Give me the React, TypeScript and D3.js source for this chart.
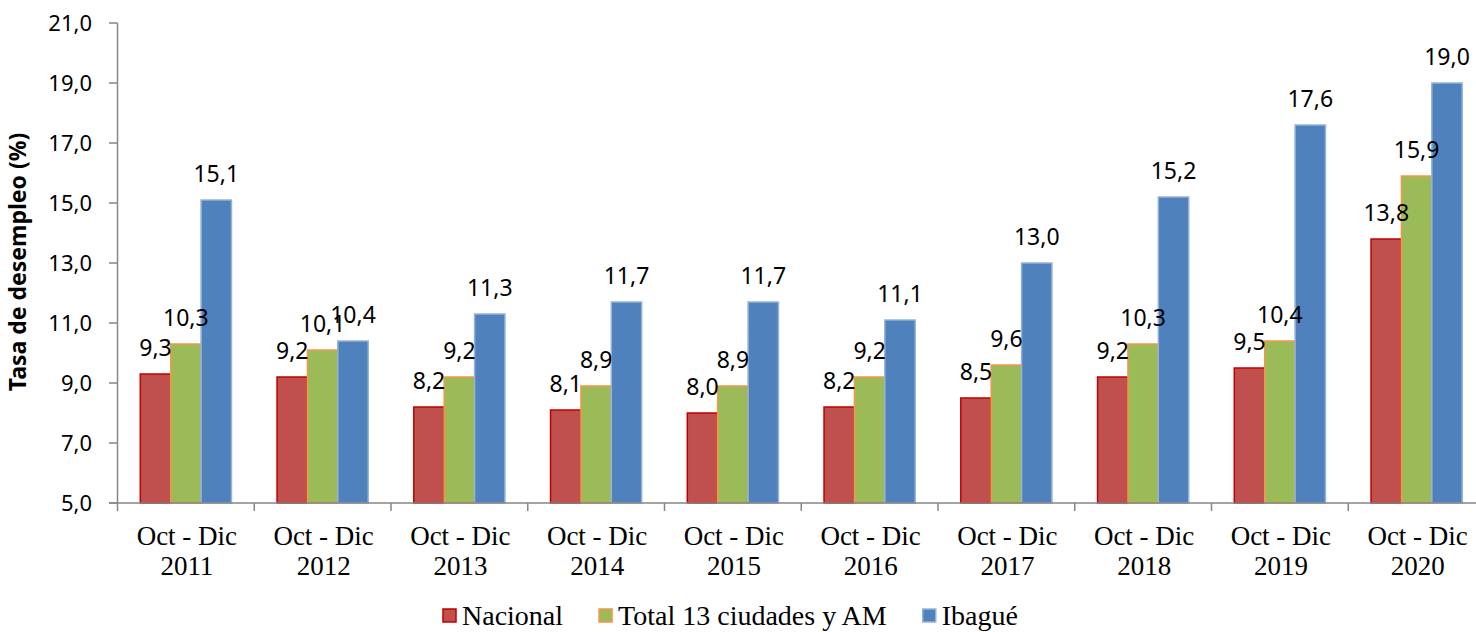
import React, { useEffect, useRef } from 'react';
import * as d3 from 'd3';

// data
const categories = ['2011', '2012', '2013', '2014', '2015', '2016', '2017', '2018', '2019', '2020'];
const seriesNames = ['Nacional', 'Total 13 ciudades y AM', 'Ibagué'];
const nacional = [9.3, 9.2, 8.2, 8.1, 8.0, 8.2, 8.5, 9.2, 9.5, 13.8];
const total13 = [10.3, 10.1, 9.2, 8.9, 8.9, 9.2, 9.6, 10.3, 10.4, 15.9];
const ibague = [15.1, 10.4, 11.3, 11.7, 11.7, 11.1, 13.0, 15.2, 17.6, 19.0];
const yTicks = [5, 7, 9, 11, 13, 15, 17, 19, 21];

const fills = ['#C0504D', '#9BBB59', '#4F81BD'];
const strokes = ['#C00000', '#F79646', '#95B3D7'];

export default function App() {
  const ref = useRef<SVGSVGElement>(null);

  useEffect(() => {
    draw();
    // eslint-disable-next-line react-hooks/exhaustive-deps
  }, []);

  function draw() {
    const svg = d3.select(ref.current);
    svg.selectAll('*').remove();
    const values = [nacional, total13, ibague];
    const axisColor = '#868686';
    const sans = "'Noto Sans', 'Open Sans', sans-serif";
    const serif = "'Liberation Serif', 'DejaVu Serif', serif";
    const fmt = (v: number) => d3.format('.1f')(v).replace('.', ',');

    const x0 = d3.scaleBand<string>().domain(categories).range([117.5, 1485]);
    const x1 = d3
      .scaleBand<string>()
      .domain(seriesNames)
      .range([0, x0.bandwidth()])
      .paddingOuter(0.75);
    const y = d3.scaleLinear().domain([5, 21]).range([503, 23]);

    // bars
    const g = svg.append('g');
    categories.forEach((c, ci) => {
      seriesNames.forEach((s, si) => {
        const v = values[si][ci];
        const bx = (x0(c) as number) + (x1(s) as number);
        g.append('rect')
          .attr('x', bx)
          .attr('y', y(v))
          .attr('width', x1.bandwidth())
          .attr('height', y(5) - y(v))
          .attr('fill', fills[si])
          .attr('stroke', strokes[si])
          .attr('stroke-width', 1.5);
      });
    });

    // labels
    categories.forEach((c, ci) => {
      seriesNames.forEach((s, si) => {
        const v = values[si][ci];
        const bx = (x0(c) as number) + (x1(s) as number) + x1.bandwidth() / 2;
        g.append('text')
          .attr('x', bx)
          .attr('y', y(v) - 18)
          .attr('text-anchor', 'middle')
          .attr('font-family', sans)
          .attr('font-size', 23)
          .attr('fill', '#000')
          .text(fmt(v));
      });
    });

    // y axis
    const ya = svg.append('g');
    ya.append('line')
      .attr('x1', 117.5)
      .attr('x2', 117.5)
      .attr('y1', y(21))
      .attr('y2', y(5))
      .attr('stroke', axisColor)
      .attr('stroke-width', 1.5);
    yTicks.forEach((t) => {
      ya.append('line')
        .attr('x1', 109)
        .attr('x2', 117.5)
        .attr('y1', y(t))
        .attr('y2', y(t))
        .attr('stroke', axisColor)
        .attr('stroke-width', 1.5);
      ya.append('text')
        .attr('x', 92)
        .attr('y', y(t))
        .attr('dy', '0.35em')
        .attr('text-anchor', 'end')
        .attr('font-family', sans)
        .attr('font-size', 22)
        .attr('fill', '#000')
        .text(fmt(t));
    });

    // x axis
    const xa = svg.append('g');
    xa.append('line')
      .attr('x1', 109)
      .attr('x2', 1485)
      .attr('y1', y(5))
      .attr('y2', y(5))
      .attr('stroke', axisColor)
      .attr('stroke-width', 1.5);
    categories.forEach((c) => {
      xa.append('line')
        .attr('x1', x0(c) as number)
        .attr('x2', x0(c) as number)
        .attr('y1', y(5))
        .attr('y2', y(5) + 8)
        .attr('stroke', axisColor)
        .attr('stroke-width', 1.5);
      const cx = (x0(c) as number) + x0.bandwidth() / 2 + 1;
      const t = xa
        .append('text')
        .attr('text-anchor', 'middle')
        .attr('font-family', serif)
        .attr('font-size', 27)
        .attr('fill', '#000');
      t.append('tspan').attr('x', cx).attr('y', 545).text('Oct - Dic');
      t.append('tspan').attr('x', cx).attr('y', 575).text(c);
    });

    // y title
    svg
      .append('text')
      .attr('transform', 'translate(26,262) rotate(-90)')
      .attr('text-anchor', 'middle')
      .attr('font-family', sans)
      .attr('font-weight', 'bold')
      .attr('font-size', 23)
      .attr('fill', '#000')
      .text('Tasa de desempleo (%)');

    // legend, laid out from measured text widths
    const lg = svg.append('g');
    let lx = 443;
    seriesNames.forEach((s, si) => {
      lg.append('rect')
        .attr('x', lx)
        .attr('y', 609)
        .attr('width', 13)
        .attr('height', 13)
        .attr('fill', fills[si])
        .attr('stroke', strokes[si])
        .attr('stroke-width', 1.5);
      const txt = lg
        .append('text')
        .attr('x', lx + 19)
        .attr('y', 625)
        .attr('font-family', serif)
        .attr('font-size', 28)
        .attr('fill', '#000')
        .text(s);
      const w = (txt.node() as SVGTextElement).getComputedTextLength();
      lx += 19 + w + 36;
    });
  }

  return (
    <svg
      ref={ref}
      width={1476}
      height={632}
      style={{ position: 'absolute', left: 0, top: 0, background: '#fff' }}
    ></svg>
  );
}
